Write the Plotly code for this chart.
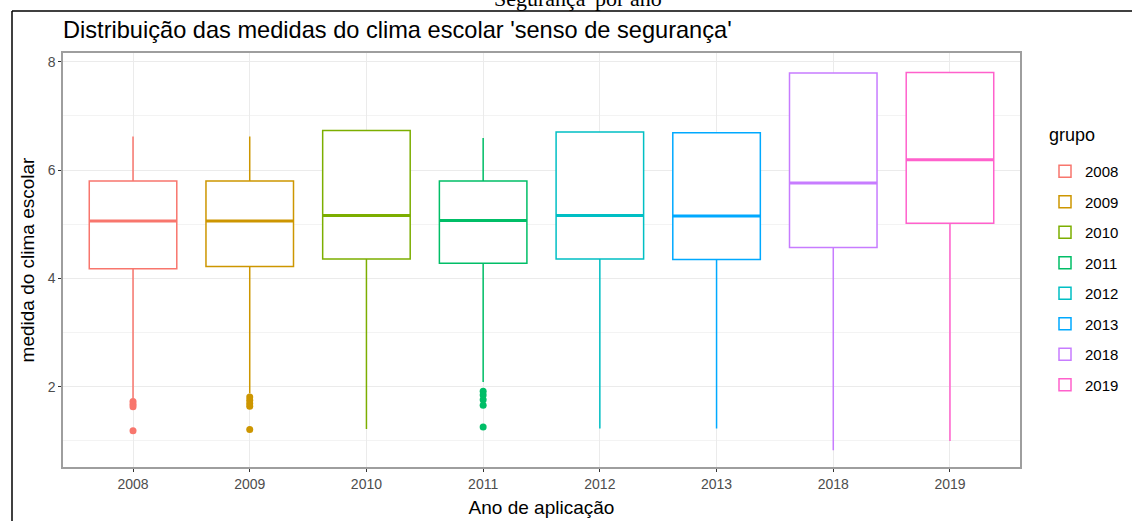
import plotly.graph_objects as go

# ---- data ----
grupos = ["2008", "2009", "2010", "2011", "2012", "2013", "2018", "2019"]
q1 = [4.18, 4.22, 4.36, 4.28, 4.36, 4.35, 4.57, 5.02]
medianas = [5.06, 5.06, 5.16, 5.07, 5.16, 5.15, 5.76, 6.19]
q3 = [5.80, 5.80, 6.73, 5.80, 6.70, 6.69, 7.79, 7.80]
limite_inf = [1.79, 1.88, 1.22, 2.09, 1.23, 1.23, 0.83, 1.00]
limite_sup = [6.62, 6.62, 6.73, 6.59, 6.70, 6.69, 7.79, 7.80]
outliers = {
    "2008": [1.73, 1.68, 1.63, 1.19],
    "2009": [1.81, 1.75, 1.69, 1.64, 1.21],
    "2011": [1.92, 1.85, 1.76, 1.66, 1.26],
}
cores = ["#F8766D", "#CD9600", "#7CAE00", "#00BE67", "#00BFC4", "#00A9FF", "#C77CFF", "#FF61CC"]

titulo = "Distribuição das medidas do clima escolar 'senso de segurança'"
texto_cortado = "Segurança' por ano"
titulo_legenda = "grupo"

# ---- layout geometry (pixels) ----
W, H = 1132, 521
L, R, T, B = 63, 112, 53, 54
pw, ph = W - L - R, H - T - B


def px_x(px):
    return (px - L) / pw


def px_y(py):
    return (H - B - py) / ph


fig = go.Figure()
for i, g in enumerate(grupos):
    fig.add_trace(go.Box(
        x=[g], q1=[q1[i]], median=[medianas[i]], q3=[q3[i]],
        lowerfence=[limite_inf[i]], upperfence=[limite_sup[i]],
        name=g, legendgroup=g, width=0.75, whiskerwidth=0,
        line=dict(color=cores[i], width=1.5),
        fillcolor="white", boxpoints=False, hoverinfo="skip",
    ))
    if g in outliers:
        fig.add_trace(go.Scatter(
            x=[g] * len(outliers[g]), y=outliers[g], mode="markers",
            marker=dict(color=cores[i], size=7), legendgroup=g,
            showlegend=False, hoverinfo="skip",
        ))
    fig.add_shape(type="line", xref="x", yref="y",
                  x0=i - 0.375, x1=i + 0.375, y0=medianas[i], y1=medianas[i],
                  line=dict(color=cores[i], width=3), layer="above")

# outer document frame
fig.add_shape(type="line", xref="paper", yref="paper",
              x0=px_x(12), x1=px_x(W + 5), y0=px_y(11), y1=px_y(11),
              line=dict(color="black", width=1.5))
fig.add_shape(type="line", xref="paper", yref="paper",
              x0=px_x(12), x1=px_x(12), y0=px_y(11), y1=px_y(H + 5),
              line=dict(color="black", width=1.5))

fig.add_annotation(text=texto_cortado, xref="paper", yref="paper",
                   x=px_x(578), y=px_y(13), xanchor="center", yanchor="bottom",
                   showarrow=False,
                   font=dict(family="Liberation Serif", size=22, color="black"))

fig.add_annotation(text=titulo_legenda, xref="paper", yref="paper",
                   x=px_x(1047), y=px_y(135), xanchor="left", yanchor="middle",
                   showarrow=False, font=dict(size=18, color="black"))

fig.update_layout(
    width=W, height=H,
    margin=dict(l=L, r=R, t=T, b=B, autoexpand=False),
    paper_bgcolor="white", plot_bgcolor="white",
    font=dict(family="Liberation Sans", color="black"),
    title=dict(text=titulo, x=L / W, xref="container", xanchor="left",
               y=1 - 30 / H, yref="container", yanchor="middle",
               font=dict(size=23.6, color="black")),
    showlegend=True,
    legend=dict(x=px_x(1045), y=px_y(155), xanchor="left", yanchor="top",
                font=dict(size=15, color="black"),
                tracegroupgap=8, bgcolor="rgba(0,0,0,0)"),
    boxmode="overlay",
)

fig.update_xaxes(
    type="category", categoryorder="array", categoryarray=grupos,
    range=[-0.6, 7.6], automargin=False,
    showgrid=True, gridcolor="#EBEBEB", gridwidth=1.1,
    showline=True, mirror=True, linecolor="#9E9E9E", linewidth=1.5,
    ticks="outside", ticklen=3, tickcolor="#333333",
    tickfont=dict(size=14, color="#4D4D4D"),
    title=dict(text="Ano de aplicação", font=dict(size=19, color="black"), standoff=10),
    zeroline=False,
)
fig.update_yaxes(
    range=[0.52, 8.16], tickvals=[2, 4, 6, 8], automargin=False,
    showgrid=True, gridcolor="#EBEBEB", gridwidth=1.1,
    minor=dict(tickvals=[1, 3, 5, 7], showgrid=True, gridcolor="#F3F3F3", gridwidth=0.7, ticks=""),
    showline=True, mirror=True, linecolor="#9E9E9E", linewidth=1.5,
    ticks="outside", ticklen=3, tickcolor="#333333",
    tickfont=dict(size=14, color="#4D4D4D"),
    title=dict(text="medida do clima escolar", font=dict(size=19, color="black"), standoff=8),
    zeroline=False,
)

fig.write_html("out.html", config={"displayModeBar": False},
               post_script="document.body.style.margin='0';")
